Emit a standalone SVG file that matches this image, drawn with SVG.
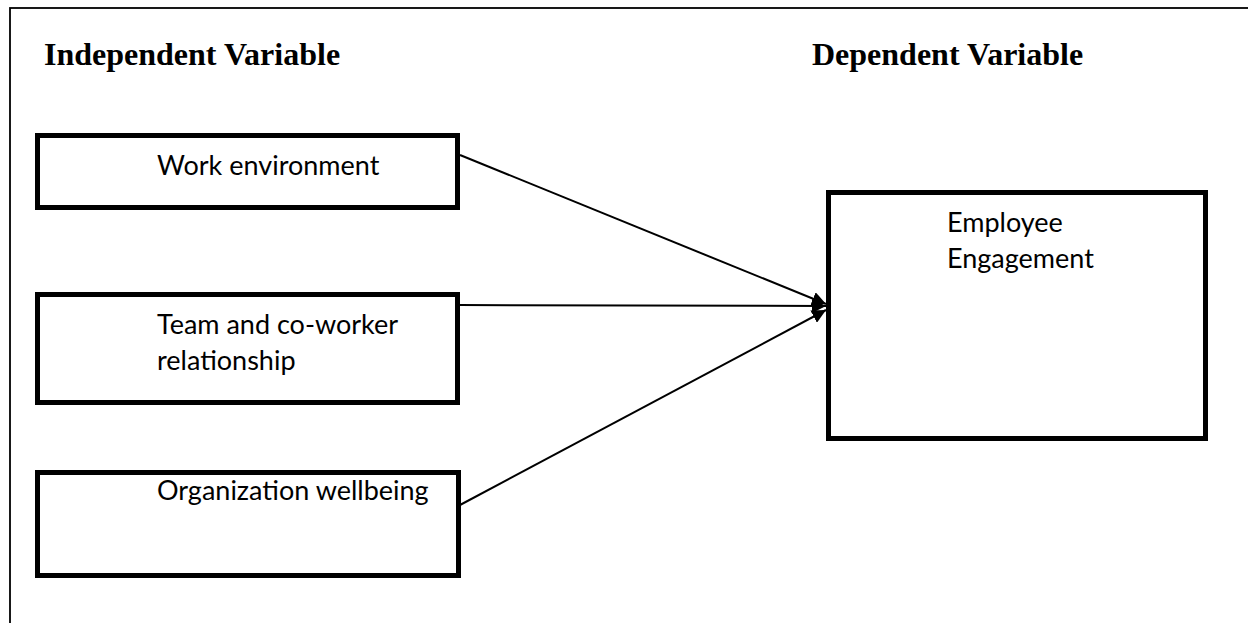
<svg xmlns="http://www.w3.org/2000/svg" width="1248" height="623" viewBox="0 0 1248 623">
<style>
.frame{fill:none;stroke:#000;stroke-width:1.8}
.box{fill:#fff;stroke:#000;stroke-width:5}
.head{font-family:"Liberation Serif","Times New Roman",serif;font-weight:bold;font-size:32px;fill:#000}
.lbl{font-family:Lato,"Liberation Sans",sans-serif;font-size:27px;fill:#000}
.conn{stroke:#000;stroke-width:2;fill:none}
</style>
<defs>
<marker id="arr" markerUnits="userSpaceOnUse" markerWidth="15" markerHeight="14" refX="14" refY="7" orient="auto">
<path d="M0,0 L14,7 L0,14 z" fill="#000"/>
</marker>
</defs>
<rect width="1248" height="623" fill="#fff"/>
<rect class="frame" x="10" y="8" width="1260" height="640"/>
<text class="head" x="44" y="65">Independent Variable</text>
<text class="head" x="812" y="65">Dependent Variable</text>
<g id="connectors">
<line class="conn" x1="460" y1="155" x2="826" y2="304" marker-end="url(#arr)"/>
<line class="conn" x1="460" y1="305" x2="826" y2="306" marker-end="url(#arr)"/>
<line class="conn" x1="460" y1="505" x2="826" y2="310" marker-end="url(#arr)"/>
</g>
<g id="work-environment">
<rect class="box" x="37.5" y="135.5" width="420" height="72"/>
<text class="lbl" x="157" y="175">Work environment</text>
</g>
<g id="team-coworker">
<rect class="box" x="37.5" y="294.5" width="420" height="108"/>
<text class="lbl" x="157" y="334">Team and co-worker</text>
<text class="lbl" x="157" y="370">relationship</text>
</g>
<g id="organization-wellbeing">
<rect class="box" x="37.5" y="472.5" width="421" height="103"/>
<text class="lbl" x="157" y="500">Organization wellbeing</text>
</g>
<g id="employee-engagement">
<rect class="box" x="828.5" y="192.5" width="377" height="246"/>
<text class="lbl" x="947" y="232">Employee</text>
<text class="lbl" x="947" y="268">Engagement</text>
</g>
</svg>
